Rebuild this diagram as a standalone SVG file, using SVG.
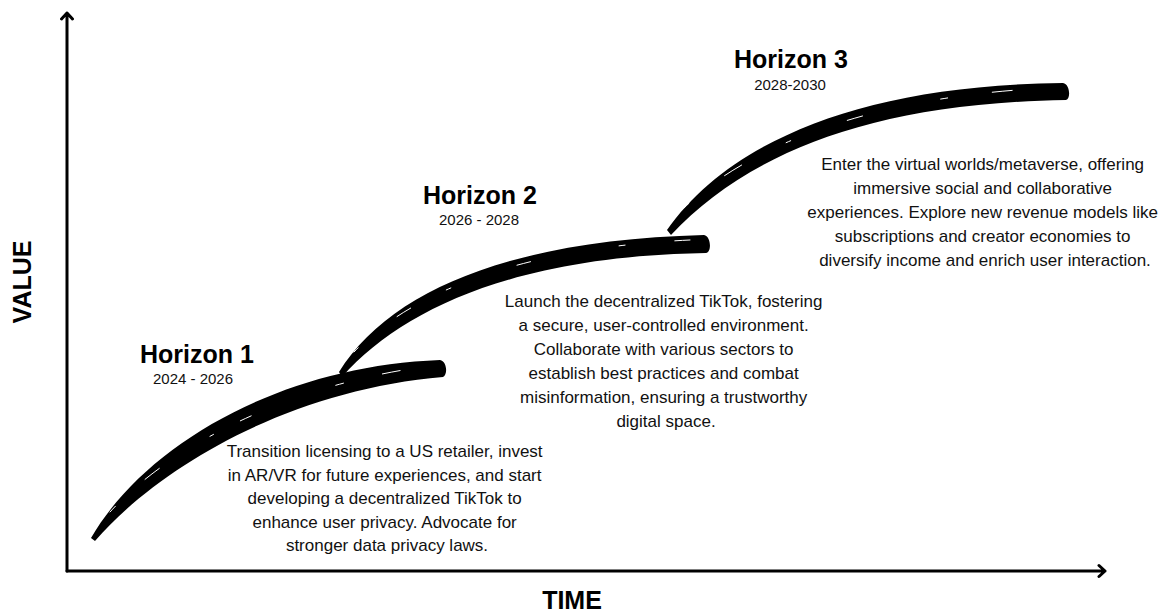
<svg xmlns="http://www.w3.org/2000/svg" width="1170" height="612" viewBox="0 0 1170 612">
  <style>
    .axis { stroke: #000; stroke-width: 3; fill: none; stroke-linecap: round; stroke-linejoin: round; }
    .axis-label { font-family: "Liberation Sans", Arial, sans-serif; font-weight: bold; font-size: 25px; fill: #000; text-anchor: middle; }
    .title { font-family: "Liberation Sans", Arial, sans-serif; font-weight: bold; font-size: 25px; fill: #000; text-anchor: middle; }
    .years { font-family: "Liberation Sans", Arial, sans-serif; font-size: 15px; fill: #111; text-anchor: middle; }
    .body { font-family: "Liberation Sans", Arial, sans-serif; font-size: 17px; fill: #111; text-anchor: middle; }
    .brush { fill: #000; }
    .streak { fill: none; stroke: #fff; stroke-linecap: round; stroke-width: 1; }
  </style>

  <!-- axes -->
  <g id="axes">
    <path class="axis" d="M67,571 V13 M61.5,19 L67,13 L72.5,19"/>
    <path class="axis" d="M67,571 H1105 M1099,565.5 L1105,571 L1099,576.5"/>
    <text class="axis-label" transform="translate(31,282) rotate(-90)">VALUE</text>
    <text class="axis-label" x="572" y="609">TIME</text>
  </g>

  <!-- brush strokes for the three growth curves -->
  <g id="connectors">
    <path class="brush" d="M91,538 C145,445 280,366 440,360 C447,361 448,375 443,377 C290,390 160,466 95,541 Z"/>
    <path class="streak" stroke-dasharray="8 40 18 60 4 30 12 90" d="M110,512 C170,446 290,384 430,366"/>
    <path class="brush" d="M339,372 C390,290 512,240 704,235 C711,236 712,252 706,253 C520,256 404,307 342,377 Z"/>
    <path class="streak" stroke-dasharray="6 50 16 40 5 70 14 90" d="M354,352 C410,293 520,248 690,240"/>
    <path class="brush" d="M667,230 C730,141 862,85 1063,83 C1070,84 1071,99 1066,100 C870,103 747,154 671,235 Z"/>
    <path class="streak" stroke-dasharray="7 45 20 50 5 60 16 80" d="M684,208 C745,148 870,96 1050,88"/>
  </g>

  <!-- Horizon 1 -->
  <g id="horizon-1">
    <text class="title" x="197" y="363">Horizon 1</text>
    <text class="years" x="193" y="384">2024 - 2026</text>
    <text class="body" x="387">
      <tspan x="387" y="457">Transition licensing to a US retailer, invest</tspan>
      <tspan x="387" y="480.5">in AR/VR for future experiences, and start</tspan>
      <tspan x="387" y="504">developing a decentralized TikTok to</tspan>
      <tspan x="387" y="527.5">enhance user privacy. Advocate for</tspan>
      <tspan x="387" y="551">stronger data privacy laws.</tspan>
    </text>
  </g>

  <!-- Horizon 2 -->
  <g id="horizon-2">
    <text class="title" x="480" y="204">Horizon 2</text>
    <text class="years" x="479" y="225">2026 - 2028</text>
    <text class="body" x="666">
      <tspan x="666" y="307">Launch the decentralized TikTok, fostering</tspan>
      <tspan x="666" y="331">a secure, user-controlled environment.</tspan>
      <tspan x="666" y="355">Collaborate with various sectors to</tspan>
      <tspan x="666" y="379">establish best practices and combat</tspan>
      <tspan x="666" y="403">misinformation, ensuring a trustworthy</tspan>
      <tspan x="666" y="427">digital space.</tspan>
    </text>
  </g>

  <!-- Horizon 3 -->
  <g id="horizon-3">
    <text class="title" x="791" y="68">Horizon 3</text>
    <text class="years" x="790" y="90">2028-2030</text>
    <text class="body" x="985">
      <tspan x="985" y="170">Enter the virtual worlds/metaverse, offering</tspan>
      <tspan x="985" y="194">immersive social and collaborative</tspan>
      <tspan x="985" y="218">experiences. Explore new revenue models like</tspan>
      <tspan x="985" y="242">subscriptions and creator economies to</tspan>
      <tspan x="985" y="266">diversify income and enrich user interaction.</tspan>
    </text>
  </g>
</svg>
